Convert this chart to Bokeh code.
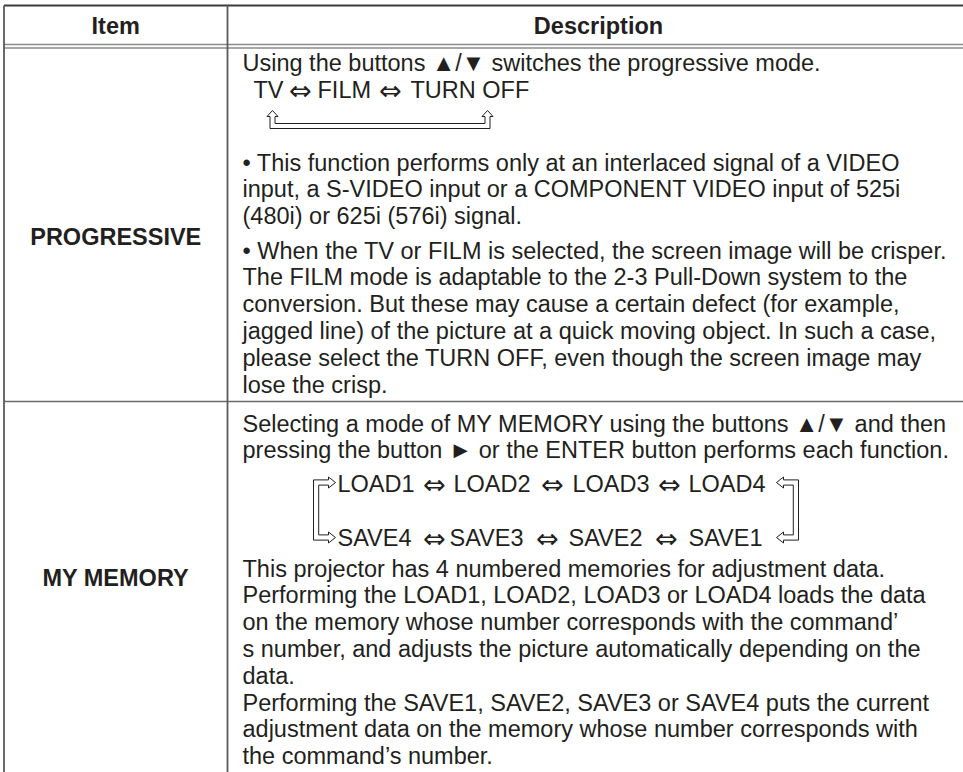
from bokeh.plotting import figure
from bokeh.models import Range1d
from bokeh.embed import file_html
from bokeh.resources import INLINE
from bokeh.core.properties import value

# ---------------- table content ----------------
header_labels = ["Item", "Description"]
item_labels = ["PROGRESSIVE", "MY MEMORY"]

progressive_intro = ["Using the buttons \u25b2/\u25bc switches the progressive mode."]
cycle_arrow = "\u21d4"
progressive_cycle_words = ["TV", "FILM", "TURN OFF"]
progressive_note1 = [
    "\u2022 This function performs only at an interlaced signal of a VIDEO",
    "input, a S-VIDEO input or a COMPONENT VIDEO input of 525i",
    "(480i) or 625i (576i) signal.",
]
progressive_note2 = [
    "\u2022 When the TV or FILM is selected, the screen image will be crisper.",
    "The FILM mode is adaptable to the 2-3 Pull-Down system to the",
    "conversion. But these may cause a certain defect (for example,",
    "jagged line) of the picture at a quick moving object. In such a case,",
    "please select the TURN OFF, even though the screen image may",
    "lose the crisp.",
]
memory_intro = [
    "Selecting a mode of MY MEMORY using the buttons \u25b2/\u25bc and then",
    "pressing the button \u25ba or the ENTER button performs each function.",
]
memory_load_words = ["LOAD1", "LOAD2", "LOAD3", "LOAD4"]
memory_save_words = ["SAVE4", "SAVE3", "SAVE2", "SAVE1"]
memory_notes = [
    "This projector has 4 numbered memories for adjustment data.",
    "Performing the LOAD1, LOAD2, LOAD3 or LOAD4 loads the data",
    "on the memory whose number corresponds with the command\u2019",
    "s number, and adjusts the picture automatically depending on the",
    "data.",
    "Performing the SAVE1, SAVE2, SAVE3 or SAVE4 puts the current",
    "adjustment data on the memory whose number corresponds with",
    "the command\u2019s number.",
]

# ---------------- layout (screen pixel coordinates) ----------------
W, H = 963, 772
LEFT, COL, RIGHT = 3.5, 227, 963
TOP, HEAD1, HEAD2, ROWSEP, BOTTOM = 5, 44, 47.5, 401, 772
TEXT_X = 242
LH = 26.8
FONT = value("'Liberation Sans', 'DejaVu Sans', sans-serif")
ARROW_FONT = value("'DejaVu Sans'")
FS = "23.5px"
INK = "#231f20"

cycle_word_x = [253, 317, 410]
cycle_arrow_x = [300, 390]
load_word_x = [337, 453, 572, 688]
load_arrow_x = [434, 552, 669]
save_word_x = [337, 449, 568, 688]
save_arrow_x = [434, 547, 666]

p = figure(width=W, height=H, x_range=Range1d(0, W), y_range=Range1d(H, 0),
           output_backend="svg", toolbar_location=None,
           x_axis_location=None, y_axis_location=None, min_border=0,
           outline_line_color=None, background_fill_color="white",
           border_fill_color="white")
p.xgrid.visible = False
p.ygrid.visible = False


def txt(xs, ys, texts, bold=False, align="left", size=FS, font=FONT):
    p.text(x=xs, y=ys, text=texts, text_font=font, text_font_size=size,
           text_font_style="bold" if bold else "normal", text_color=INK,
           text_align=align, text_baseline="middle")


def lines_block(lines, y0, x=TEXT_X, lh=LH):
    txt([x] * len(lines), [y0 + i * lh for i in range(len(lines))], lines)


def diagram_row(words, word_x, arrow_x, y):
    txt(word_x, [y] * len(words), words)
    txt(arrow_x, [y + 1] * len(arrow_x), [cycle_arrow] * len(arrow_x), align="center",
        size="27px", font=ARROW_FONT)


# grid lines of the table
p.segment(x0=[LEFT], y0=[TOP], x1=[RIGHT], y1=[TOP], line_color="#3a3a3a", line_width=2)
p.segment(x0=[LEFT, LEFT], y0=[HEAD1, HEAD2], x1=[RIGHT, RIGHT], y1=[HEAD1, HEAD2],
          line_color="#8a8a8a", line_width=1.4)
p.segment(x0=[LEFT], y0=[ROWSEP], x1=[RIGHT], y1=[ROWSEP], line_color="#6a6a6a", line_width=1.5)
p.segment(x0=[LEFT, COL], y0=[TOP, TOP], x1=[LEFT, COL], y1=[BOTTOM, BOTTOM],
          line_color="#5a5a5a", line_width=1.8)

# header
txt([(LEFT + COL) / 2, (COL + RIGHT) / 2 + 3], [25, 25], header_labels, bold=True, align="center")
# item labels
txt([(LEFT + COL) / 2] * 2, [236, 577], item_labels, bold=True, align="center")

# PROGRESSIVE description
lines_block(progressive_intro, 62)
diagram_row(progressive_cycle_words, cycle_word_x, cycle_arrow_x, 89)
lines_block(progressive_note1, 162)
lines_block(progressive_note2, 250)

# U-shaped return arrow under TV ... TURN OFF
xl, xr, yt, yb = 272, 487, 110, 128
hw, h, sw = 5.5, 6, 2.5
ux = [xl, xl + hw, xl + sw, xl + sw, xr - sw, xr - sw, xr - hw, xr, xr + hw, xr + sw, xr + sw,
      xl - sw, xl - sw, xl - hw]
uy = [yt, yt + h, yt + h, yb - 2 * sw, yb - 2 * sw, yt + h, yt + h, yt, yt + h, yt + h, yb,
      yb, yt + h, yt + h]
p.patch(ux, uy, fill_color="white", line_color=INK, line_width=1)

# MY MEMORY description
lines_block(memory_intro, 423)
diagram_row(memory_load_words, load_word_x, load_arrow_x, 483)
diagram_row(memory_save_words, save_word_x, save_arrow_x, 537)
lines_block(memory_notes, 568)


def loop(xt, xo, ya, yb, direction):
    # direction +1: arrows point right (tips at xt, spine at xo beside them)
    d = direction
    hh, hw2, s = 7, 5.5, 2.6
    xs = [xt, xt - d * hh, xt - d * hh, xo + d * 2 * s, xo + d * 2 * s, xt - d * hh, xt - d * hh,
          xt, xt - d * hh, xt - d * hh, xo, xo, xt - d * hh, xt - d * hh]
    ys = [ya, ya + hw2, ya + s, ya + s, yb - s, yb - s, yb - hw2, yb, yb + hw2, yb + s, yb + s,
          ya - s, ya - s, ya - hw2]
    p.patch(xs, ys, fill_color="white", line_color=INK, line_width=1)


loop(335, 313, 482, 537, +1)
loop(776, 798, 482, 537, -1)

open("out.html", "w").write(file_html(p, INLINE))
